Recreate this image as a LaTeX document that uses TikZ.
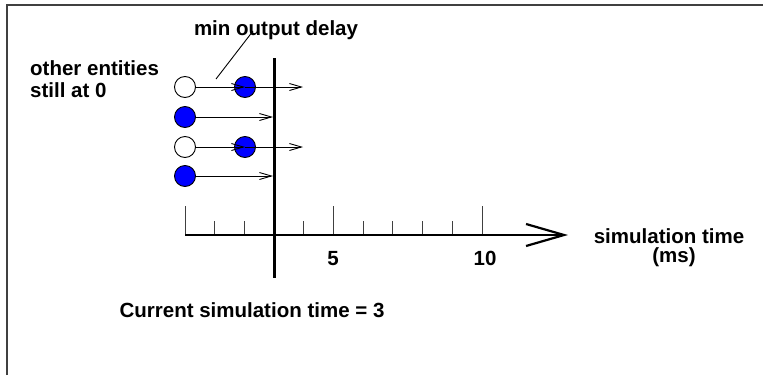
\documentclass[tikz,border=0pt]{standalone}
\usepackage{fontspec}
\setmainfont{Liberation Sans}
\usetikzlibrary{arrows.meta}
\begin{document}
\begin{tikzpicture}[x=1pt,y=-1pt,
  lbl/.style={font=\fontsize{20.5}{22}\selectfont\bfseries, inner sep=0pt},
  ent/.style={circle, draw=black, line width=0.9pt, minimum size=21pt, inner sep=0pt},
  full/.style={ent, fill=blue},
  empty/.style={ent, fill=white},
  msg/.style={line width=0.9pt, -{Straight Barb[length=12pt,width=7pt,line width=0.9pt]}},
  tick/.style={line width=1pt, draw=black!75}
]
\useasboundingbox (0,0) rectangle (763,375);
% frame
\draw[line width=1.3pt, draw=black!75] (7,375) -- (7,5) -- (763,5);

% time axis ticks
\foreach \t in {1,2,4,6,7,8,9} \draw[tick] (185+29.7*\t,221) -- (185+29.7*\t,235);
\foreach \t in {0,5,10} \draw[tick] (185+29.7*\t,206) -- (185+29.7*\t,235);
\coordinate (ax0) at (185,235);
\coordinate (ax1) at (568,235);
\draw[line width=2.5pt, -{Straight Barb[length=38pt,width=22pt,line width=2.2pt]}] (ax0) -- (ax1);

% current time line
\coordinate (ct0) at (274,58);
\coordinate (ct1) at (274,278);
\draw[line width=3pt] (ct0) -- (ct1);

% entities
\node[empty] (a1) at (185,87) {};
\node[full]  (b1) at (245,87) {};
\node[full]  (a2) at (185,117) {};
\node[empty] (a3) at (185,147) {};
\node[full]  (b3) at (245,147) {};
\node[full]  (a4) at (185,176) {};

\coordinate (e1) at (303,87);
\coordinate (e2) at (273,117);
\coordinate (e3) at (303,147);
\coordinate (e4) at (273,176);

\draw[msg] (a1.east) -- (b1.center);
\draw[msg] (b1.center) -- (e1);
\draw[msg] (a2.east) -- (e2);
\draw[msg] (a3.east) -- (b3.center);
\draw[msg] (b3.center) -- (e3);
\draw[msg] (a4.east) -- (e4);

% labels
\node[lbl, anchor=base west] (oth) at (30,75) {other entities};
\node[lbl, anchor=base west] (still) at (30,97) {still at 0};
\node[lbl, anchor=base] (mod) at (276,35) {min output delay};
\coordinate (mp) at (216,79);
\draw[line width=0.9pt] (mp) -- (253,31);
\node[lbl, anchor=base] (five) at (333,265) {5};
\node[lbl, anchor=base] (ten) at (485,265) {10};
\node[lbl, anchor=base] (st) at (669,243) {simulation time};
\node[lbl, anchor=base] (ms) at (674,262) {(ms)};
\node[lbl, anchor=base] (cur) at (252,317) {Current simulation time = 3};
\end{tikzpicture}
\end{document}
